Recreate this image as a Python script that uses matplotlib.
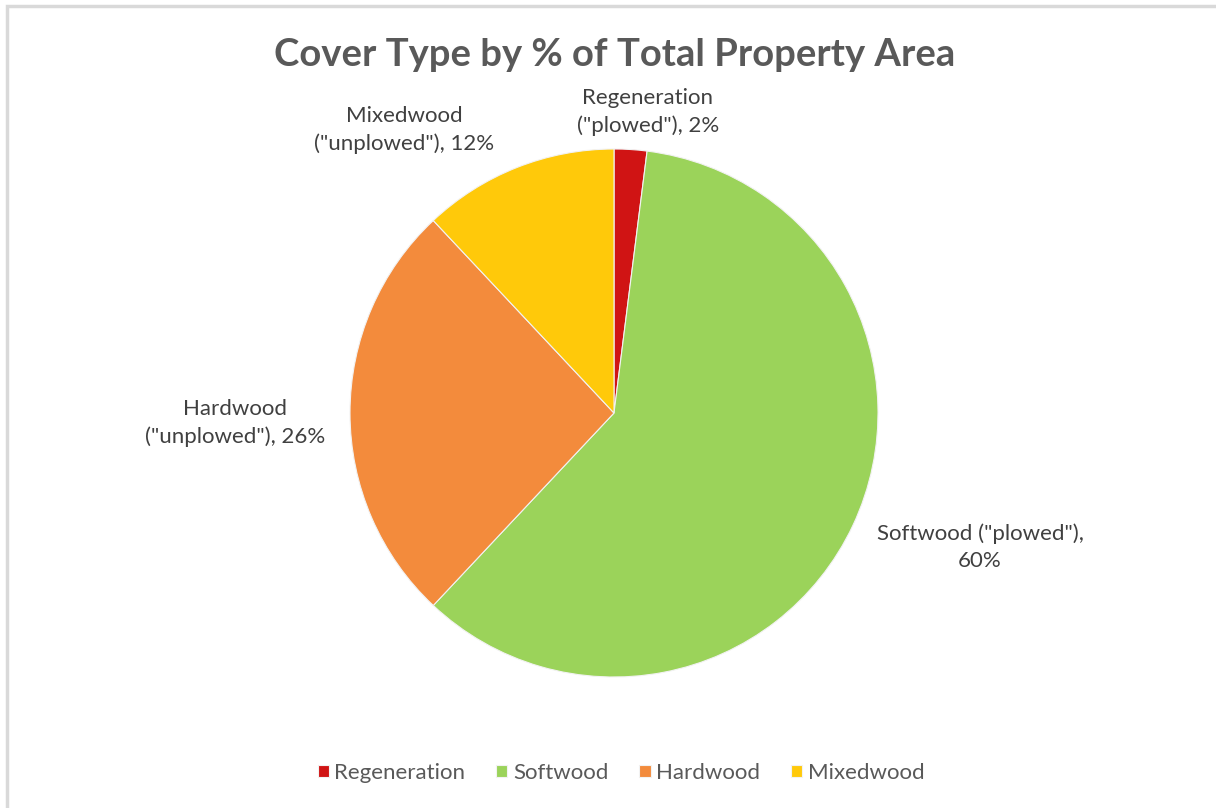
import matplotlib.pyplot as plt
from matplotlib.patches import Rectangle

# data
categories = ['Regeneration', 'Softwood', 'Hardwood', 'Mixedwood']
shares = [2, 60, 26, 12]
label_text = ['Regeneration\n("plowed"), 2%',
              'Softwood ("plowed"),\n60%',
              'Hardwood\n("unplowed"), 26%',
              'Mixedwood\n("unplowed"), 12%']
colors = ['#D01414', '#9BD35A', '#F38B3C', '#FFC90A']


def main():
    plt.rcParams['font.family'] = ['Lato', 'DejaVu Sans']
    W, H = 1216, 808
    fig = plt.figure(figsize=(W / 100, H / 100), dpi=100)

    # light frame around the chart
    fig.patches.append(Rectangle((7 / W, -0.01), 1.02, (H - 6) / H + 0.01,
                                 transform=fig.transFigure, fill=False,
                                 edgecolor='#D9D9D9', linewidth=2.5))

    # pie axes, centred at (614, 413) px with radius 264 px
    cx, cy, r = 614, 413, 264
    ax = fig.add_axes([(cx - r) / W, (H - cy - r) / H, 2 * r / W, 2 * r / H])
    wedges, _ = ax.pie(shares, colors=colors, startangle=90, counterclock=False,
                       radius=1.0, wedgeprops=dict(edgecolor='#F2F2F2', linewidth=0.8))
    ax.set_xlim(-1, 1)
    ax.set_ylim(-1, 1)
    ax.set_aspect('equal')
    ax.axis('off')

    # title
    fig.text(615 / W, 1 - 55 / H, 'Cover Type by % of Total Property Area',
             ha='center', va='center', fontsize=27.5, fontweight='bold', color='#595959')

    # data labels (pixel positions of text centres)
    label_pos = [(648, 112), (980, 547), (235, 423), (404, 130)]
    for txt, (px, py) in zip(label_text, label_pos):
        fig.text(px / W, 1 - py / H, txt, ha='center', va='center',
                 fontsize=16, color='#404040', linespacing=1.45)

    # legend
    fig.legend(wedges, categories, loc='center', bbox_to_anchor=(621 / W, 1 - 773 / H),
               ncol=4, frameon=False, fontsize=16, handlelength=0.5, handleheight=0.5,
               columnspacing=1.4, handletextpad=0.25, labelcolor='#595959')

    fig.savefig('out.png', dpi=100, facecolor='white')


if __name__ == '__main__':
    main()
